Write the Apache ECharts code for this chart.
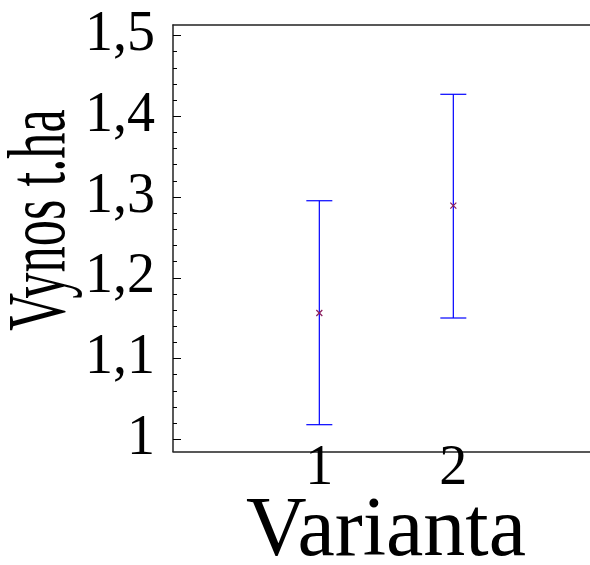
<!DOCTYPE html>
<html>
<head>
<meta charset="utf-8">
<script src="https://cdn.jsdelivr.net/npm/echarts@6/dist/echarts.min.js"></script>
<style>
    html, body { margin: 0; padding: 0; background: #fff; }
    #chart { width: 590px; height: 565px; }
</style>
</head>
<body>
<div id="chart"></div>
<script>
// varianty a jejich prumery s intervaly
const categories = [1, 2]
const means = [1.1564, 1.2893]
const lows = [1.0181, 1.1502]
const highs = [1.2954, 1.4272]

const yTicks = [1, 1.1, 1.2, 1.3, 1.4, 1.5]
const xTicks = [1, 2]
const yMinorTicks = []
for (let i = 0; i <= 25; i++) yMinorTicks.push(+(1 + i * 0.02).toFixed(2))

const yMin = 0.9849, yMax = 1.513
const xMin = -0.092, xMax = 3.02

const serif = '"Liberation Serif", "Times New Roman", serif'
const frame = { show: true, onZero: false, lineStyle: { color: '#222', width: 1.5 } }

const chart = echarts.init(document.getElementById('chart'))

const rows = categories.map((c, i) => [c, lows[i], highs[i], means[i]])

chart.setOption({
    animation: false,
    grid: { left: 173, top: 25, right: 0, bottom: 113.5, containLabel: false },
    xAxis: [
        {
            type: 'value', min: xMin, max: xMax, position: 'bottom',
            axisLine: frame,
            axisTick: { show: false },
            splitLine: { show: false },
            axisLabel: {
                customValues: xTicks,
                margin: -10,
                fontFamily: serif, fontSize: 56, color: '#000',
            },
        },
        {
            type: 'value', min: xMin, max: xMax, position: 'top',
            axisLine: frame,
            axisTick: { show: false },
            axisLabel: { show: false },
            splitLine: { show: false },
        },
    ],
    yAxis: [
        {
            type: 'value', min: yMin, max: yMax, position: 'left',
            axisLine: frame,
            axisTick: { show: true, inside: true, length: 8, customValues: yTicks, lineStyle: { color: '#000', width: 1 } },
            splitLine: { show: false },
            axisLabel: {
                customValues: yTicks,
                margin: 18,
                padding: [0, 0, 8, 0],
                fontFamily: serif, fontSize: 56, color: '#000',
                formatter: v => String(v).replace('.', ','),
            },
        },
        {
            type: 'value', min: yMin, max: yMax, position: 'left',
            axisLine: { show: false, onZero: false },
            axisTick: { show: true, inside: true, length: 4, customValues: yMinorTicks, lineStyle: { color: '#000', width: 1 } },
            axisLabel: { show: false },
            splitLine: { show: false },
        },
    ],
    graphic: [
        {
            type: 'text',
            x: 42, y: 220,
            rotation: Math.PI / 2,
            scaleX: 0.64,
            style: {
                text: 'Vynos t.ha',
                font: '82px ' + serif,
                fill: '#000',
                align: 'center',
                verticalAlign: 'middle',
            },
        },
        {
            type: 'text',
            x: 386, y: 533,
            style: {
                text: 'Varianta',
                font: '84px ' + serif,
                fill: '#000',
                align: 'center',
                verticalAlign: 'middle',
            },
        },
    ],
    series: [
        {
            type: 'custom',
            xAxisIndex: 0, yAxisIndex: 0,
            data: rows,
            encode: { x: 0, y: [1, 2] },
            renderItem(params, api) {
                const x = api.value(0)
                const lo = api.coord([x, api.value(1)])
                const hi = api.coord([x, api.value(2)])
                const m = api.coord([x, api.value(3)])
                const cap = 13, s = 3
                const blue = { stroke: '#0000ff', lineWidth: 1.2 }
                const mark = { stroke: '#8a1e5e', lineWidth: 1.2 }
                return {
                    type: 'group',
                    children: [
                        { type: 'line', shape: { x1: lo[0], y1: lo[1], x2: hi[0], y2: hi[1] }, style: blue },
                        { type: 'line', shape: { x1: hi[0] - cap, y1: hi[1], x2: hi[0] + cap, y2: hi[1] }, style: blue },
                        { type: 'line', shape: { x1: lo[0] - cap, y1: lo[1], x2: lo[0] + cap, y2: lo[1] }, style: blue },
                        { type: 'line', shape: { x1: m[0] - s, y1: m[1] - s, x2: m[0] + s, y2: m[1] + s }, style: mark },
                        { type: 'line', shape: { x1: m[0] - s, y1: m[1] + s, x2: m[0] + s, y2: m[1] - s }, style: mark },
                    ],
                }
            },
        },
    ],
})
</script>
</body>
</html>
